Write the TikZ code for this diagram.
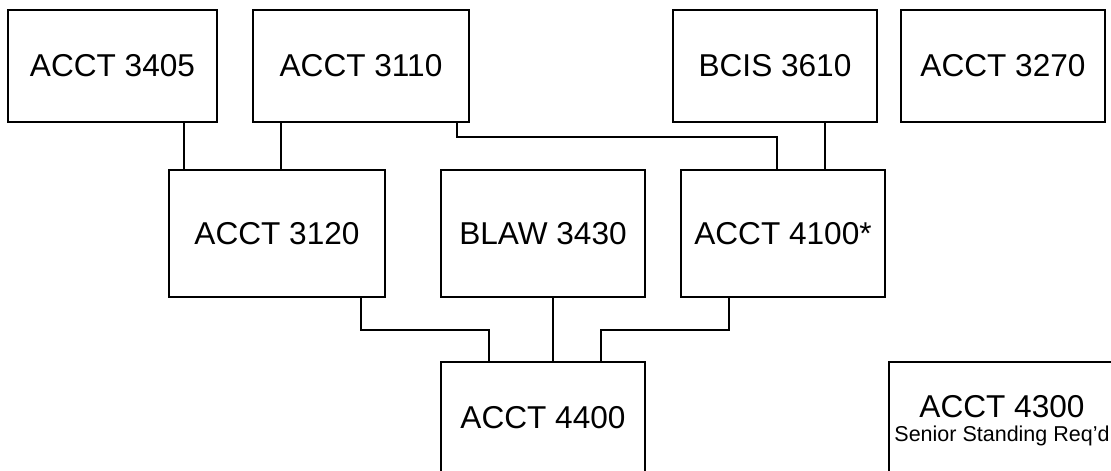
\documentclass[tikz,border=0pt]{standalone}
\usepackage{fontspec}
\setmainfont{Liberation Sans}
\begin{document}
\begin{tikzpicture}[x=1pt,y=-1pt,
  box/.style={draw, line width=1.5pt, inner sep=0pt, font=\fontsize{31.6}{36}\selectfont},
  link/.style={line width=1.5pt}]
\useasboundingbox (0,0) rectangle (1111,471);
\clip (0,0) rectangle (1111,471);
\fill[white] (0,0) rectangle (1111,471);
% row 1
\node[box, minimum width=209pt, minimum height=112pt] (a3405) at (112.5,66) {ACCT 3405};
\node[box, minimum width=216pt, minimum height=112pt] (a3110) at (361,66) {ACCT 3110};
\node[box, minimum width=204pt, minimum height=112pt] (b3610) at (775,66) {BCIS 3610};
\node[box, minimum width=204pt, minimum height=112pt] (a3270) at (1003,66) {ACCT 3270};
% row 2
\node[box, minimum width=216pt, minimum height=127pt] (a3120) at (277,233.5) {ACCT 3120};
\node[box, minimum width=204pt, minimum height=127pt] (l3430) at (543,233.5) {BLAW 3430};
\node[box, minimum width=204pt, minimum height=127pt] (a4100) at (783,233.5) {ACCT 4100*};
% row 3
\node[box, minimum width=204pt, minimum height=112pt] (a4400) at (543,418) {ACCT 4400};
\node[box, minimum width=226pt, minimum height=112pt, align=center,
      font=\fontsize{21.5}{23.5}\selectfont] (a4300) at (1002,418)
      {{\fontsize{31.6}{23.5}\selectfont\rule{0pt}{27pt}ACCT 4300}\\Senior Standing Req’d};
% connectors
\draw[link] (a3405.south -| 184,0) -- (a3120.north -| 184,0);
\draw[link] (a3110.south -| 281,0) -- (a3120.north -| 281,0);
\draw[link] (a3110.south -| 457,0) |- (777,137) -- (a4100.north -| 777,0);
\draw[link] (b3610.south -| 825,0) -- (a4100.north -| 825,0);
\draw[link] (a3120.south -| 361,0) |- (489,330) -- (a4400.north -| 489,0);
\draw[link] (l3430.south -| 553,0) -- (a4400.north -| 553,0);
\draw[link] (a4100.south -| 729,0) |- (601,330) -- (a4400.north -| 601,0);
\end{tikzpicture}
\end{document}
